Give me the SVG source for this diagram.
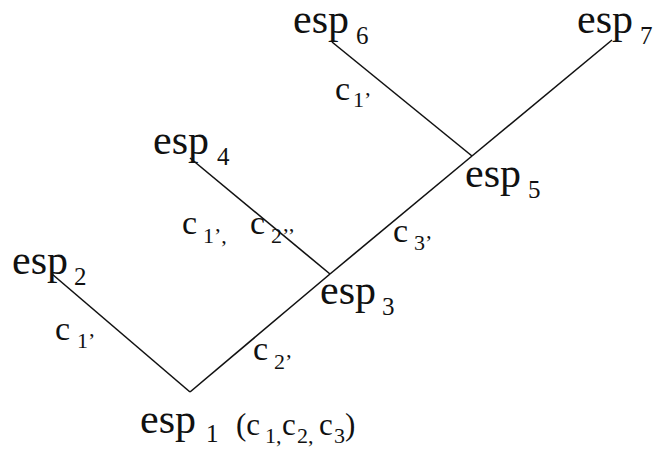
<svg xmlns="http://www.w3.org/2000/svg" width="658" height="450" viewBox="0 0 658 450">
<style>
.n{font-family:"Liberation Serif","Times New Roman",serif;font-size:42px;fill:#111}
.s{font-size:25px}
.l{font-family:"Liberation Serif","Times New Roman",serif;font-size:34px;fill:#111}
.ls{font-size:22px}
.p{font-family:"Liberation Serif","Times New Roman",serif;font-size:31px;fill:#111}
.ps{font-size:22px}
.e{stroke:#111;stroke-width:1.6;fill:none}
</style>
<rect width="658" height="450" fill="#fff"/>
<g id="connectors">
<line class="e" x1="190" y1="392" x2="52" y2="274"/>
<line class="e" x1="190" y1="392" x2="330" y2="274"/>
<line class="e" x1="330" y1="274" x2="190" y2="158"/>
<line class="e" x1="330" y1="274" x2="472" y2="156"/>
<line class="e" x1="472" y1="156" x2="332" y2="42"/>
<line class="e" x1="472" y1="156" x2="612" y2="40"/>
</g>
<g id="edge-labels">
<text class="l" x="335" y="100">c<tspan class="ls" x="353" y="107">1’</tspan></text>
<text class="l" x="182" y="234">c<tspan class="ls" x="203" y="243">1’,</tspan><tspan x="250" y="234">c</tspan><tspan class="ls" x="271" y="243">2’’</tspan></text>
<text class="l" x="393" y="242">c<tspan class="ls" x="414" y="250">3’</tspan></text>
<text class="l" x="253" y="360">c<tspan class="ls" x="274" y="369">2’</tspan></text>
<text class="l" x="55" y="340">c<tspan class="ls" x="77" y="348">1’</tspan></text>
</g>
<g id="esp1">
<text class="n" x="140" y="433">esp<tspan class="s" x="206" y="442">1</tspan></text>
<text class="p" x="236" y="435">(c<tspan class="ps" x="265" y="443">1,</tspan><tspan x="282" y="435">c</tspan><tspan class="ps" x="297" y="443">2,</tspan><tspan x="319" y="435">c</tspan><tspan class="ps" x="334" y="443">3</tspan><tspan x="345" y="435">)</tspan></text>
</g>
<g id="esp2"><text class="n" x="12" y="274">esp<tspan class="s" x="74" y="285">2</tspan></text></g>
<g id="esp3"><text class="n" x="320" y="304">esp<tspan class="s" x="382" y="315">3</tspan></text></g>
<g id="esp4"><text class="n" x="153" y="154">esp<tspan class="s" x="217" y="165">4</tspan></text></g>
<g id="esp5"><text class="n" x="465" y="187">esp<tspan class="s" x="528" y="198">5</tspan></text></g>
<g id="esp6"><text class="n" x="293" y="33">esp<tspan class="s" x="356" y="44">6</tspan></text></g>
<g id="esp7"><text class="n" x="577" y="33">esp<tspan class="s" x="640" y="44">7</tspan></text></g>
</svg>
